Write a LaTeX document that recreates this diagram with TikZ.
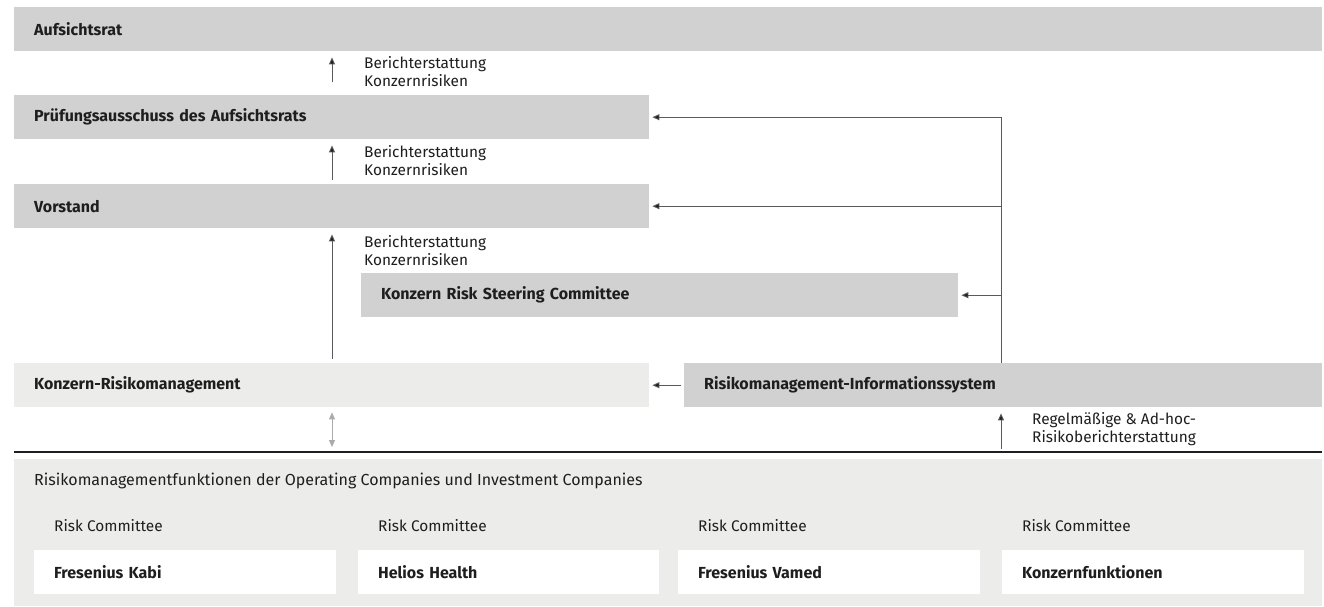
\documentclass[tikz,border=0pt]{standalone}
\usepackage{fontspec}
\setmainfont{Fira Sans}
\usetikzlibrary{arrows.meta}
\definecolor{bardark}{HTML}{D1D1D1}
\definecolor{barlight}{HTML}{ECECEB}
\definecolor{ink}{HTML}{1E1E1E}
\definecolor{wire}{HTML}{5A5A5A}
\definecolor{wirelight}{HTML}{ABABAB}
\begin{document}
\begin{tikzpicture}[x=1pt,y=-1pt,
  every node/.style={text=ink},
  box/.style={anchor=north west, minimum height=44pt, inner xsep=20pt, inner ysep=0pt, align=left,
              font=\fontsize{16}{18}\selectfont\bfseries},
  darkbox/.style={box, fill=bardark},
  lightbox/.style={box, fill=barlight},
  whitebox/.style={box, fill=white},
  note/.style={anchor=west, inner sep=0pt, align=left, font=\fontsize{15.4}{18}\selectfont},
  plain/.style={anchor=west, inner sep=0pt, font=\fontsize{15.4}{18}\selectfont},
  tip/.style={Triangle[width=6pt,length=7pt]},
  arr/.style={draw=wire, line width=0.9pt, -{Triangle[width=6pt,length=7pt,fill=ink]}},
  dblarr/.style={draw=wirelight, line width=0.9pt, {Triangle[width=6pt,length=7pt]}-{Triangle[width=6pt,length=7pt]}},
  wireline/.style={draw=wire, line width=0.9pt}]
\useasboundingbox (0,0) rectangle (1324,606);
\fill[white] (0,0) rectangle (1324,606);

% management levels
\node[darkbox, text width=1268pt] (ar) at (14,7) {Aufsichtsrat};
\node[darkbox, text width=595pt] (pa) at (14,95) {Prüfungsausschuss des Aufsichtsrats};
\node[darkbox, text width=595pt] (vs) at (14,184) {Vorstand};
\node[darkbox, text width=557pt] (rsc) at (361,273) {Konzern Risk Steering Committee};
\node[lightbox, text width=595pt] (krm) at (14,363) {Konzern-Risikomanagement};
\node[darkbox, text width=598pt] (rmis) at (684,363) {Risikomanagement-Informationssystem};

% reporting labels
\node[note] (n1) at (364,72) {Berichterstattung\\Konzernrisiken};
\node[note] (n2) at (364,161) {Berichterstattung\\Konzernrisiken};
\node[note] (n3) at (364,251) {Berichterstattung\\Konzernrisiken};
\node[note] (n4) at (1032,429) {Regelmäßige \& Ad-hoc-\\Risikoberichterstattung};

% vertical reporting chain
\coordinate (cx) at (332,0);
\coordinate (rx) at (1001,0);
\draw[arr, shorten <=13pt, shorten >=6pt] (cx |- pa.north) -- (cx |- ar.south);
\draw[arr, shorten <=4pt, shorten >=6pt] (cx |- vs.north) -- (cx |- pa.south);
\draw[arr, shorten <=4pt, shorten >=6pt] (cx |- krm.north) -- (cx |- vs.south);

% information system feeds
\draw[wireline] (rx |- rmis.north) -- (rx |- pa.east);
\draw[arr, shorten >=3pt] (rx |- pa.east) -- (pa.east);
\draw[arr, shorten >=3pt] (rx |- vs.east) -- (vs.east);
\draw[arr, shorten >=3pt] (rx |- rsc.east) -- (rsc.east);
\draw[arr, shorten <=3pt, shorten >=3pt] (rmis.west) -- (krm.east);

% divider
\coordinate (dl) at (14,452);
\coordinate (dr) at (1322,452);
\draw[draw=ink, line width=1.3pt] (dl) -- (dr);
\draw[dblarr, shorten <=5pt, shorten >=5pt] (cx |- krm.south) -- (cx |- dl);
\draw[arr, shorten <=3pt, shorten >=6pt] (rx |- dl) -- (rx |- rmis.south);

% operating and investment companies
\node[anchor=north west, fill=barlight, minimum width=1308pt, minimum height=147pt, inner sep=0pt] (oc) at (14,459) {};
\node[plain, font=\fontsize{16}{18}\selectfont] (oct) at (34,481)
  {Risikomanagementfunktionen der Operating Companies und Investment Companies};

\node[whitebox, text width=262pt] (fk) at (34,550) {Fresenius Kabi};
\node[whitebox, text width=261pt] (hh) at (358,550) {Helios Health};
\node[whitebox, text width=262pt] (fv) at (678,550) {Fresenius Vamed};
\node[whitebox, text width=262pt] (kf) at (1002,550) {Konzernfunktionen};

\foreach \b/\n in {fk/rc1, hh/rc2, fv/rc3, kf/rc4}{
  \node[plain] (\n) at ([xshift=20pt,yshift=24pt]\b.north west) {Risk Committee};
}
\end{tikzpicture}
\end{document}
